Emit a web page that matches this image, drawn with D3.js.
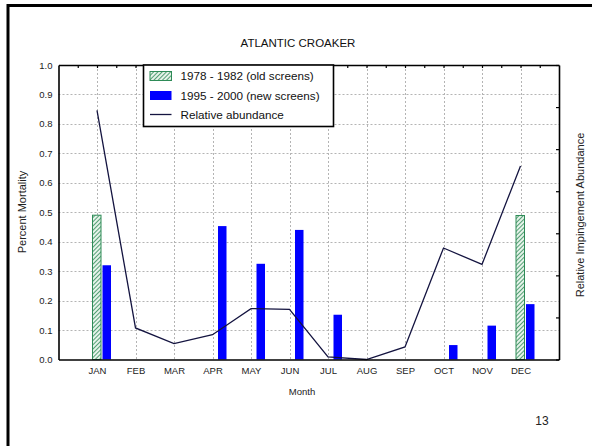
<!DOCTYPE html>
<html><head><meta charset="utf-8">
<script src="https://cdn.jsdelivr.net/npm/d3@7"></script>
<style>body{margin:0;background:#fff}svg{display:block}text{font-family:Arial,"Liberation Sans",sans-serif}</style>
</head><body><svg id="c" width="592" height="446"></svg>
<script>
const months = ["JAN","FEB","MAR","APR","MAY","JUN","JUL","AUG","SEP","OCT","NOV","DEC"];
const oldScreens = [0.49,null,null,null,null,null,null,null,null,null,null,0.489];
const newScreens = [0.32,null,null,0.453,0.325,0.44,0.152,null,null,0.049,0.115,0.188];
// relative abundance on right axis (unlabelled, 0-7 units)
const abundance = [5.92,0.75,0.38,0.59,1.21,1.19,0.06,0.0,0.30,2.65,2.26,4.60];
const yTicks = [0,0.1,0.2,0.3,0.4,0.5,0.6,0.7,0.8,0.9,1.0];
const legendLabels = ["1978 - 1982 (old screens)","1995 - 2000 (new screens)","Relative abundance"];

const svg = d3.select("#c");
const L=58.5, R=559, T=65, B=359.5;
const x = d3.scaleLinear().domain([0,13]).range([L,R]);
const y = d3.scaleLinear().domain([0,1]).range([B,T]);
const y2 = d3.scaleLinear().domain([0,7]).range([B,T]);

// slide frame
svg.append("line").attr("x1",7).attr("x2",592).attr("y1",5.5).attr("y2",5.5).attr("stroke","#000").attr("stroke-width",3);
svg.append("line").attr("x1",8).attr("x2",8).attr("y1",4).attr("y2",446).attr("stroke","#000").attr("stroke-width",3);

const defs = svg.append("defs");
const pat = defs.append("pattern").attr("id","hatch").attr("patternUnits","userSpaceOnUse").attr("width",3).attr("height",3).attr("patternTransform","rotate(45)");
pat.append("rect").attr("width",3).attr("height",3).attr("fill","#e6f3ea");
pat.append("line").attr("x1",0).attr("y1",0).attr("x2",0).attr("y2",3).attr("stroke","#2e8b57").attr("stroke-width",1.6);

// grid
const g = svg.append("g");
g.selectAll(".hg").data(yTicks.slice(1,-1)).join("line")
  .attr("x1",L).attr("x2",R).attr("y1",d=>Math.round(y(d))+0.5).attr("y2",d=>Math.round(y(d))+0.5)
  .attr("stroke","#b4b4b4").attr("stroke-dasharray","2,2");
g.selectAll(".vg").data(months).join("line")
  .attr("x1",(d,i)=>Math.round(x(i+1))+0.5).attr("x2",(d,i)=>Math.round(x(i+1))+0.5).attr("y1",T).attr("y2",B)
  .attr("stroke","#b4b4b4").attr("stroke-dasharray","2,2");

// bars
const bw = 8.5;
svg.selectAll(".old").data(oldScreens.map((v,i)=>({v,i})).filter(d=>d.v!=null)).join("rect")
  .attr("x",d=>x(d.i+1)-4.5).attr("width",bw).attr("y",d=>y(d.v)).attr("height",d=>B-y(d.v))
  .attr("fill","url(#hatch)").attr("stroke","#2e8b57").attr("stroke-width",1);
svg.selectAll(".new").data(newScreens.map((v,i)=>({v,i})).filter(d=>d.v!=null)).join("rect")
  .attr("x",d=>x(d.i+1)+5.5).attr("width",bw).attr("y",d=>y(d.v)).attr("height",d=>B-y(d.v))
  .attr("fill","#0000ff");

// line
svg.append("path").datum(abundance)
  .attr("d",d3.line().x((d,i)=>x(i+1)).y(d=>y2(d)))
  .attr("fill","none").attr("stroke","#141440").attr("stroke-width",1.3);

// axes
const xb = svg.append("g").attr("transform",`translate(0,${B})`)
  .call(d3.axisBottom(x).tickValues(d3.range(1,13)).tickFormat(d=>months[d-1]).tickSize(0).tickPadding(8));
const xt = svg.append("g").attr("transform",`translate(0,${T})`)
  .call(d3.axisTop(x).tickValues(d3.range(0.5,13,0.5)).tickFormat("").tickSizeInner(-3).tickSizeOuter(0));
const yl = svg.append("g").attr("transform",`translate(${L},0)`)
  .call(d3.axisLeft(y).tickValues(yTicks).tickFormat(d3.format(".1f")).tickSize(0).tickPadding(6));
const yr = svg.append("g").attr("transform",`translate(${R},0)`)
  .call(d3.axisRight(y2).tickValues(d3.range(0,8)).tickFormat("").tickSizeInner(-3).tickSizeOuter(0));
[xb,xt,yl,yr].forEach(a=>{
  a.selectAll(".domain").attr("stroke","#000").attr("stroke-width",1.6);
  a.selectAll("line").attr("stroke","#000").attr("stroke-width",1.2);
  a.selectAll("text").attr("font-size",9.5).attr("fill","#222").attr("font-family","Arial, Liberation Sans, sans-serif");
});

// titles
svg.append("text").attr("x",298).attr("y",47).attr("text-anchor","middle").attr("font-size",11.5).attr("fill","#111").text("ATLANTIC CROAKER");
svg.append("text").attr("x",302).attr("y",394.5).attr("text-anchor","middle").attr("font-size",9.5).attr("fill","#222").text("Month");
svg.append("text").attr("transform","translate(26,212) rotate(-90)").attr("text-anchor","middle").attr("font-size",11).attr("fill","#222").text("Percent Mortality");
svg.append("text").attr("transform","translate(584,215) rotate(-90)").attr("text-anchor","middle").attr("font-size",11).attr("fill","#222").text("Relative Impingement Abundance");
svg.append("text").attr("x",542).attr("y",425).attr("text-anchor","middle").attr("font-size",12).attr("font-family","Liberation Serif, Times New Roman, serif").attr("fill","#222").text("13");

// legend
const lg = svg.append("g");
lg.append("rect").attr("x",143.5).attr("y",65).attr("width",190).attr("height",61.5).attr("fill","#fff").attr("stroke","#000").attr("stroke-width",1.6);
const rowsY = [76,95.5,114.5];
lg.append("rect").attr("x",150).attr("y",rowsY[0]-4.5).attr("width",21.5).attr("height",9).attr("fill","url(#hatch)").attr("stroke","#2e8b57");
lg.append("rect").attr("x",150).attr("y",rowsY[1]-4.5).attr("width",21.5).attr("height",9).attr("fill","#0000ff");
lg.append("line").attr("x1",150).attr("x2",171.5).attr("y1",rowsY[2]).attr("y2",rowsY[2]).attr("stroke","#141440").attr("stroke-width",1.3);
lg.selectAll(".lt").data(legendLabels).join("text")
  .attr("x",180.5).attr("y",(d,i)=>rowsY[i]+4.2).attr("font-size",11.7).attr("fill","#111").text(d=>d);
</script></body></html>
